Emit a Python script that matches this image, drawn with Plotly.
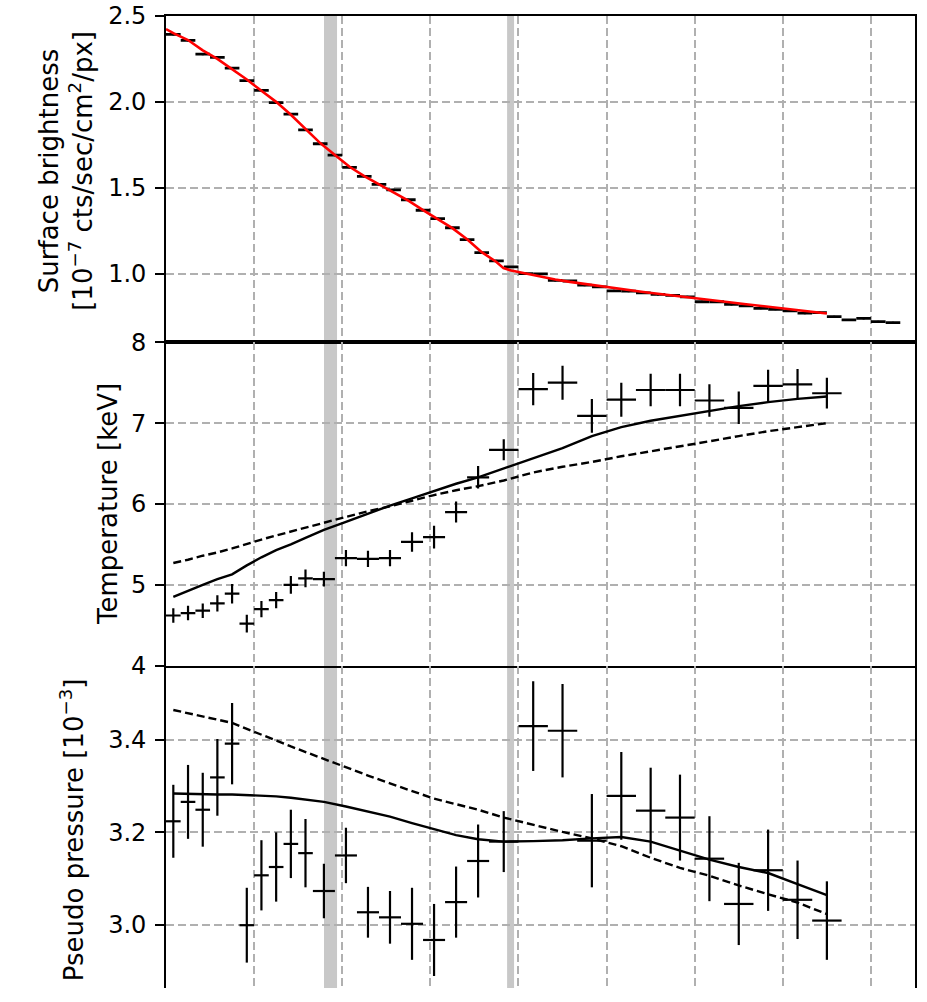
import plotly.graph_objects as go

# ---------------- data ----------------
# Surface-brightness bins (x in axis units, 1/6 wide)
sb_x = [0.083, 0.25, 0.417, 0.583, 0.75, 0.917, 1.083, 1.25, 1.417, 1.583,
        1.75, 1.917, 2.083, 2.25, 2.417, 2.583, 2.75, 2.917, 3.083, 3.25,
        3.417, 3.583, 3.75, 3.917, 4.083, 4.25, 4.417, 4.583, 4.75, 4.917,
        5.083, 5.25, 5.417, 5.583, 5.75, 5.917, 6.083, 6.25, 6.417, 6.583,
        6.75, 6.917, 7.083, 7.25, 7.417, 7.583, 7.75, 7.917, 8.083, 8.25]
sb_val = [2.393, 2.358, 2.278, 2.259, 2.197, 2.124, 2.067, 1.996, 1.929, 1.837,
          1.756, 1.690, 1.618, 1.566, 1.520, 1.488, 1.430, 1.369, 1.320, 1.267,
          1.198, 1.122, 1.074, 1.039, 1.000, 0.998, 0.960, 0.957, 0.933, 0.923,
          0.900, 0.898, 0.888, 0.879, 0.873, 0.865, 0.836, 0.836, 0.821, 0.812,
          0.798, 0.792, 0.783, 0.770, 0.773, 0.749, 0.730, 0.739, 0.720, 0.714]
sb_xerr = [0.083] * 50
sb_yerr = [0.006] * 50

sb_model_x = [0.0, 0.083, 0.25, 0.417, 0.583, 0.75, 0.917, 1.083, 1.25, 1.417, 1.583,
              1.75, 1.917, 2.083, 2.25, 2.417, 2.583, 2.75, 2.917, 3.083, 3.25,
              3.417, 3.583, 3.75, 3.83, 3.917, 4.083, 4.25, 4.417, 4.583, 4.75, 4.917,
              5.083, 5.25, 5.417, 5.583, 5.75, 5.917, 6.083, 6.25, 6.417, 6.583,
              6.75, 6.917, 7.083, 7.25, 7.417, 7.5]
sb_model = [2.424, 2.40, 2.36, 2.30, 2.25, 2.19, 2.13, 2.065, 2.00, 1.925, 1.84,
            1.76, 1.69, 1.622, 1.568, 1.52, 1.47, 1.425, 1.37, 1.32, 1.265,
            1.20, 1.125, 1.068, 1.032, 1.018, 1.000, 0.984, 0.966, 0.952, 0.940, 0.926,
            0.914, 0.903, 0.893, 0.883, 0.872, 0.862, 0.852, 0.842, 0.832, 0.822,
            0.812, 0.802, 0.792, 0.782, 0.773, 0.768]

# Temperature / pressure bins
t_x = [0.083, 0.25, 0.417, 0.583, 0.75, 0.917, 1.083, 1.25, 1.417, 1.583,
       1.792, 2.042, 2.292, 2.542, 2.792, 3.042, 3.292, 3.542,
       3.833, 4.167, 4.5, 4.833, 5.167, 5.5, 5.833, 6.167, 6.5, 6.833, 7.167, 7.5]
t_xerr = [0.083, 0.083, 0.083, 0.083, 0.083, 0.083, 0.083, 0.083, 0.083, 0.083,
          0.125, 0.125, 0.125, 0.125, 0.125, 0.125, 0.125, 0.125,
          0.167, 0.167, 0.167, 0.167, 0.167, 0.167, 0.167, 0.167, 0.167, 0.167, 0.167, 0.167]
temp = [4.62, 4.65, 4.68, 4.77, 4.89, 4.52, 4.70, 4.81, 5.00, 5.08,
        5.07, 5.33, 5.32, 5.33, 5.53, 5.59, 5.90, 6.33,
        6.67, 7.42, 7.50, 7.09, 7.29, 7.41, 7.41, 7.28, 7.19, 7.46, 7.48, 7.37]
temp_err = [0.09, 0.09, 0.09, 0.10, 0.12, 0.11, 0.10, 0.10, 0.11, 0.11,
            0.09, 0.10, 0.10, 0.10, 0.12, 0.14, 0.13, 0.14,
            0.13, 0.20, 0.21, 0.21, 0.21, 0.20, 0.20, 0.20, 0.20, 0.20, 0.19, 0.19]
temp_model = [4.85, 4.93, 5.00, 5.07, 5.13, 5.24, 5.34, 5.43, 5.50, 5.58,
              5.68, 5.78, 5.88, 5.98, 6.07, 6.16, 6.25, 6.33,
              6.44, 6.57, 6.69, 6.84, 6.95, 7.03, 7.09, 7.15, 7.21, 7.26, 7.30, 7.33]
temp_model2 = [5.27, 5.31, 5.36, 5.40, 5.45, 5.51, 5.56, 5.61, 5.66, 5.71,
               5.77, 5.84, 5.91, 5.97, 6.04, 6.11, 6.17, 6.22,
               6.29, 6.39, 6.46, 6.52, 6.59, 6.65, 6.715, 6.775, 6.84, 6.90, 6.95, 7.00]

pres = [3.224, 3.266, 3.249, 3.319, 3.392, 2.999, 3.107, 3.125, 3.175, 3.155,
        3.073, 3.150, 3.027, 3.016, 3.002, 2.967, 3.049, 3.138,
        3.180, 3.430, 3.420, 3.182, 3.279, 3.247, 3.232, 3.143, 3.045, 3.118, 3.054, 3.009]
pres_err = [0.079, 0.080, 0.080, 0.083, 0.088, 0.081, 0.076, 0.075, 0.074, 0.074,
            0.059, 0.060, 0.055, 0.057, 0.078, 0.078, 0.077, 0.079,
            0.066, 0.097, 0.101, 0.101, 0.095, 0.093, 0.093, 0.092, 0.089, 0.088, 0.085, 0.085]
pres_model = [3.284, 3.283, 3.282, 3.282, 3.282, 3.281, 3.280, 3.278, 3.275, 3.271,
              3.266, 3.256, 3.245, 3.234, 3.220, 3.207, 3.194, 3.185,
              3.180, 3.181, 3.183, 3.187, 3.190, 3.180, 3.161, 3.141, 3.125, 3.112, 3.088, 3.064]
pres_model2 = [3.465, 3.458, 3.451, 3.444, 3.437, 3.424, 3.412, 3.399, 3.386, 3.374,
               3.358, 3.340, 3.323, 3.306, 3.289, 3.273, 3.261, 3.249,
               3.232, 3.216, 3.201, 3.187, 3.170, 3.145, 3.123, 3.106, 3.085, 3.066, 3.048, 3.023]

# shaded regions (x ranges)
bands = [(1.793, 1.941), (3.871, 3.950)]

# ---------------- figure ----------------
FONT = "DejaVu Sans"
fig = go.Figure()

ekw = dict(mode="markers", marker=dict(size=2, color="rgba(0,0,0,0)",
                                       line=dict(width=0)),
           showlegend=False, hoverinfo="skip")

# top panel
fig.add_trace(go.Scatter(
    x=sb_x, y=sb_val, xaxis="x", yaxis="y",
    error_x=dict(type="data", array=sb_xerr, color="black", thickness=2.8, width=0),
    error_y=dict(type="data", array=sb_yerr, color="black", thickness=2.0, width=0),
    **ekw))
fig.add_trace(go.Scatter(x=sb_model_x, y=sb_model, xaxis="x", yaxis="y", mode="lines",
                         line=dict(color="red", width=2.6), showlegend=False))

# middle panel
fig.add_trace(go.Scatter(x=t_x, y=temp_model2, xaxis="x2", yaxis="y2", mode="lines",
                         line=dict(color="black", width=2.4, dash="8px,4px"), showlegend=False))
fig.add_trace(go.Scatter(x=t_x, y=temp_model, xaxis="x2", yaxis="y2", mode="lines",
                         line=dict(color="black", width=2.4), showlegend=False))
fig.add_trace(go.Scatter(
    x=t_x, y=temp, xaxis="x2", yaxis="y2",
    error_x=dict(type="data", array=t_xerr, color="black", thickness=2.2, width=0),
    error_y=dict(type="data", array=temp_err, color="black", thickness=2.2, width=0),
    **ekw))

# bottom panel
fig.add_trace(go.Scatter(x=t_x, y=pres_model2, xaxis="x3", yaxis="y3", mode="lines",
                         line=dict(color="black", width=2.4, dash="8px,4px"), showlegend=False))
fig.add_trace(go.Scatter(x=t_x, y=pres_model, xaxis="x3", yaxis="y3", mode="lines",
                         line=dict(color="black", width=2.4), showlegend=False))
fig.add_trace(go.Scatter(
    x=t_x, y=pres, xaxis="x3", yaxis="y3",
    error_x=dict(type="data", array=t_xerr, color="black", thickness=2.2, width=0),
    error_y=dict(type="data", array=pres_err, color="black", thickness=2.2, width=0),
    **ekw))

W, H = 927, 1002
ML, MR, MT, MB = 166, 12, 16, 0
plot_h = H - MT - MB


def pfrac(py):
    return (H - MB - py) / plot_h


grid = dict(showgrid=True, gridcolor="#b0b0b0", gridwidth=1.5, griddash="8px,4px",
            zeroline=False)
xcommon = dict(range=[0, 8.5], tick0=0, dtick=1, showticklabels=False, ticks="",
               linecolor="black", linewidth=1.8, mirror=True, **grid)
ycommon = dict(ticks="outside", ticklen=9, tickwidth=1.5, tickcolor="black",
               showline=True, linecolor="black", linewidth=1.8, mirror=True,
               tickfont=dict(family=FONT, size=24, color="black"),
               ticklabelstandoff=4, **grid)

d1 = [pfrac(347), 1.0]
d2 = [pfrac(675), pfrac(347)]
d3 = [0.0, pfrac(675)]

fig.update_layout(
    width=W, height=H,
    margin=dict(l=ML, r=MR, t=MT, b=MB, pad=0),
    paper_bgcolor="white", plot_bgcolor="white",
    showlegend=False,
    xaxis=dict(anchor="y", showline=True, **xcommon),
    xaxis2=dict(anchor="y2", matches="x", showline=True, **xcommon),
    xaxis3=dict(anchor="y3", matches="x", showline=False, **xcommon),
    yaxis=dict(anchor="x", domain=d1, range=[0.6, 2.5], tick0=1.0, dtick=0.5,
               tickformat=".1f", **ycommon),
    yaxis2=dict(anchor="x2", domain=d2, range=[4, 8], tick0=4, dtick=1,
                tickformat="d", **ycommon),
    yaxis3=dict(anchor="x3", domain=d3, range=[2.863, 3.561], tick0=3.0, dtick=0.2,
                tickformat=".1f", **ycommon),
)

for (a, b) in bands:
    fig.add_shape(type="rect", xref="x", yref="paper", x0=a, x1=b, y0=0, y1=1,
                  fillcolor="#c8c8c8", line=dict(width=0), layer="below")

tfont = dict(family=FONT, size=26, color="black")


def xpaper(px):
    return (px - ML) / (W - ML - MR)


fig.add_annotation(text="Surface brightness<br>[10<sup>−7</sup> cts/sec/cm<sup>2</sup>/px]",
                   xref="paper", yref="paper", x=xpaper(66), y=pfrac(173),
                   xanchor="center", yanchor="middle", textangle=-90,
                   showarrow=False, font=tfont)
fig.add_annotation(text="Temperature [keV]",
                   xref="paper", yref="paper", x=xpaper(108), y=pfrac(511),
                   xanchor="center", yanchor="middle", textangle=-90,
                   showarrow=False, font=tfont)
fig.add_annotation(text="Pseudo pressure [10<sup>−3</sup>]",
                   xref="paper", yref="paper", x=xpaper(72), y=pfrac(842),
                   xanchor="center", yanchor="middle", textangle=-90,
                   showarrow=False, font=tfont)

fig.write_html("out.html")
